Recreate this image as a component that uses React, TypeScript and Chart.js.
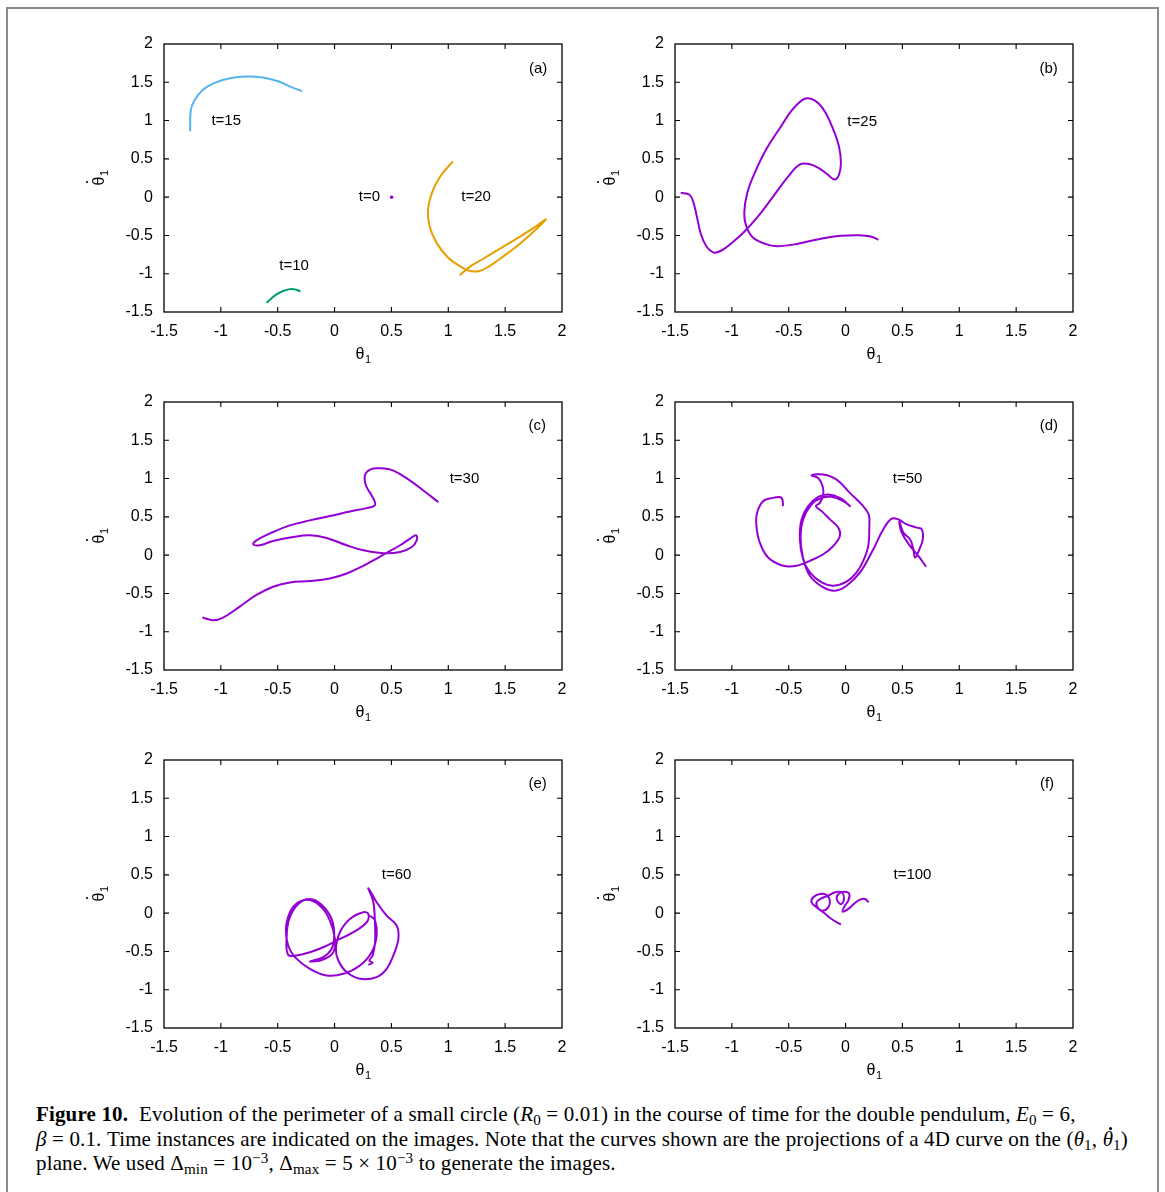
import React, { useEffect, useRef } from "react";
import { Chart, registerables } from "chart.js";

Chart.register(...registerables);

// ---------- axes ----------
const AXIS_MIN = -1.5;
const AXIS_MAX = 2;
const TICK_VALUES = [-1.5, -1, -0.5, 0, 0.5, 1, 1.5, 2];

// ---------- colours ----------
const PURPLE = "#9400D3";
const BLUE = "#56B4E9";
const GREEN = "#009E73";
const ORANGE = "#E69F00";

// ---------- panel (a) ----------
const t0X = [0.49, 0.5, 0.51, 0.5, 0.49];
const t0Y = [0.0, 0.01, 0.0, -0.01, 0.0];
const t10X = [-0.6, -0.52, -0.44, -0.37, -0.3];
const t10Y = [-1.38, -1.28, -1.22, -1.2, -1.23];
const t15X = [-1.27, -1.264, -1.23, -1.16, -1.06, -0.93, -0.775, -0.62, -0.49, -0.386, -0.285];
const t15Y = [0.86, 1.14, 1.27, 1.4, 1.49, 1.55, 1.576, 1.56, 1.51, 1.44, 1.385];
const t20X = [1.04, 0.93, 0.856, 0.822, 0.835, 0.896, 0.997, 1.099, 1.183, 1.267, 1.352, 1.47, 1.605, 1.74, 1.858, 1.774, 1.638, 1.47, 1.3, 1.2, 1.1];
const t20Y = [0.467, 0.272, 0.055, -0.161, -0.378, -0.594, -0.789, -0.897, -0.962, -0.967, -0.91, -0.789, -0.638, -0.464, -0.291, -0.378, -0.508, -0.659, -0.811, -0.897, -1.019];

// ---------- panel (b) ----------
const t25X = [-1.45, -1.375, -1.342, -1.309, -1.276, -1.227, -1.16, -1.095, -0.996, -0.897, -0.766, -0.634, -0.502, -0.404, -0.321, -0.239, -0.157, -0.097, -0.058, -0.041, -0.058, -0.107, -0.173, -0.239, -0.305, -0.371, -0.47, -0.568, -0.7, -0.799, -0.864, -0.891, -0.874, -0.815, -0.7, -0.601, -0.436, -0.239, -0.041, 0.123, 0.222, 0.288];
const t25Y = [0.057, 0.035, -0.051, -0.246, -0.462, -0.635, -0.722, -0.7, -0.592, -0.462, -0.246, 0.014, 0.274, 0.425, 0.434, 0.382, 0.295, 0.23, 0.295, 0.447, 0.663, 0.879, 1.096, 1.225, 1.286, 1.277, 1.139, 0.923, 0.62, 0.317, 0.057, -0.203, -0.376, -0.527, -0.614, -0.64, -0.614, -0.549, -0.505, -0.497, -0.514, -0.557];

// ---------- panel (c) ----------
const t30X = [-1.162, -1.068, -0.98, -0.834, -0.687, -0.54, -0.393, -0.217, -0.041, 0.106, 0.253, 0.37, 0.473, 0.576, 0.664, 0.717, 0.722, 0.679, 0.576, 0.429, 0.253, 0.106, -0.07, -0.217, -0.364, -0.54, -0.657, -0.716, -0.687, -0.54, -0.393, -0.217, -0.041, 0.135, 0.282, 0.356, 0.326, 0.276, 0.267, 0.311, 0.4, 0.517, 0.664, 0.781, 0.913];
const t30Y = [-0.815, -0.85, -0.815, -0.672, -0.52, -0.412, -0.356, -0.339, -0.304, -0.239, -0.139, -0.044, 0.042, 0.129, 0.216, 0.259, 0.194, 0.107, 0.042, 0.025, 0.064, 0.129, 0.224, 0.259, 0.237, 0.185, 0.129, 0.142, 0.194, 0.302, 0.389, 0.454, 0.51, 0.571, 0.614, 0.657, 0.779, 0.909, 1.039, 1.117, 1.134, 1.104, 0.974, 0.844, 0.692];

// ---------- panel (d) ----------
const t50X = [-0.549, -0.563, -0.637, -0.725, -0.778, -0.784, -0.754, -0.681, -0.549, -0.431, -0.314, -0.196, -0.108, -0.05, -0.064, -0.138, -0.211, -0.261, -0.226, -0.196, -0.202, -0.24, -0.299, -0.196, -0.079, 0.038, 0.141, 0.203, 0.209, 0.2, 0.162, 0.097, 0.009, -0.108, -0.211, -0.314, -0.373, -0.402, -0.387, -0.329, -0.24, -0.152, -0.05, 0.038, -0.02, -0.123, -0.211, -0.299, -0.373, -0.396, -0.378, -0.314, -0.196, -0.094, 0.009, 0.127, 0.244, 0.332, 0.405, 0.464, 0.538, 0.626, 0.67, 0.679, 0.649, 0.611, 0.596, 0.567, 0.508, 0.473, 0.494, 0.567, 0.64, 0.708];
const t50Y = [0.64, 0.748, 0.748, 0.705, 0.553, 0.38, 0.164, -0.031, -0.139, -0.139, -0.074, 0.012, 0.12, 0.25, 0.359, 0.467, 0.575, 0.64, 0.683, 0.792, 0.9, 1.008, 1.043, 1.052, 0.987, 0.813, 0.662, 0.532, 0.38, 0.12, -0.053, -0.226, -0.347, -0.399, -0.356, -0.226, -0.053, 0.207, 0.467, 0.64, 0.761, 0.792, 0.748, 0.64, 0.705, 0.761, 0.748, 0.662, 0.467, 0.25, -0.01, -0.269, -0.421, -0.464, -0.399, -0.226, 0.077, 0.337, 0.476, 0.467, 0.402, 0.359, 0.337, 0.207, 0.077, -0.031, 0.077, 0.207, 0.294, 0.445, 0.294, 0.12, -0.01, -0.152];

// ---------- panel (e) ----------
const t60X = [0.297, 0.335, 0.306, 0.335, 0.356, 0.356, 0.341, 0.297, 0.37, 0.458, 0.546, 0.561, 0.517, 0.458, 0.37, 0.223, 0.106, 0.033, 0.012, 0.047, 0.135, 0.253, 0.297, 0.282, 0.165, 0.018, -0.1, -0.217, -0.334, -0.408, -0.422, -0.399, -0.32, -0.217, -0.114, -0.026, -0.003, -0.026, -0.1, -0.217, -0.1, -0.011, 0.003, -0.041, -0.114, -0.217, -0.32, -0.393, -0.428, -0.408, -0.349, -0.217, -0.07, 0.077, 0.223, 0.326, 0.37, 0.356, 0.311];
const t60Y = [-0.675, -0.649, -0.618, -0.553, -0.38, -0.162, 0.142, 0.324, 0.142, -0.032, -0.162, -0.336, -0.553, -0.727, -0.835, -0.857, -0.77, -0.618, -0.466, -0.249, -0.076, 0.011, -0.01, -0.119, -0.249, -0.358, -0.445, -0.51, -0.553, -0.545, -0.336, -0.076, 0.12, 0.185, 0.111, -0.076, -0.293, -0.466, -0.575, -0.631, -0.605, -0.51, -0.336, -0.097, 0.076, 0.172, 0.142, 0.011, -0.206, -0.423, -0.575, -0.727, -0.814, -0.792, -0.683, -0.51, -0.293, -0.097, -0.032];

// ---------- panel (f) ----------
const t100X = [-0.041, -0.123, -0.196, -0.255, -0.299, -0.284, -0.226, -0.167, -0.138, -0.152, -0.196, -0.24, -0.255, -0.211, -0.152, -0.108, -0.064, -0.026, -0.014, -0.035, -0.064, -0.079, -0.05, -0.006, 0.033, 0.024, -0.006, -0.026, 0.024, 0.082, 0.127, 0.171, 0.203];
const t100Y = [-0.149, -0.076, 0.011, 0.076, 0.142, 0.207, 0.25, 0.237, 0.163, 0.076, 0.033, 0.063, 0.142, 0.194, 0.228, 0.263, 0.28, 0.263, 0.185, 0.12, 0.142, 0.207, 0.263, 0.28, 0.25, 0.163, 0.098, 0.02, 0.055, 0.133, 0.176, 0.185, 0.142];

// ---------- annotations ----------
const panelTags = ["(a)", "(b)", "(c)", "(d)", "(e)", "(f)"];
const tagX = [1.79, 1.786, 1.782, 1.788, 1.785, 1.771];
const tagY = [1.68, 1.68, 1.688, 1.688, 1.69, 1.69];

type Curve = { xs: number[]; ys: number[]; color: string };
type Note = { x: number; y: number; text: string };
type Panel = { curves: Curve[]; notes: Note[]; plotLeft: number; plotTop: number };

const PLOT_W = 398;
const PLOT_H = 268;
const LEFT_BOX = 84;
const TOP_PAD = 24;
const RIGHT_PAD = 16;
const BOTTOM_BOX = 62;

const PANELS: Panel[] = [
  {
    plotLeft: 164, plotTop: 44,
    curves: [
      { xs: t15X, ys: t15Y, color: BLUE },
      { xs: t10X, ys: t10Y, color: GREEN },
      { xs: t20X, ys: t20Y, color: ORANGE },
      { xs: t0X, ys: t0Y, color: PURPLE },
    ],
    notes: [
      { x: -0.953, y: 0.995, text: "t=15" },
      { x: -0.356, y: -0.902, text: "t=10" },
      { x: 0.306, y: 0, text: "t=0" },
      { x: 1.244, y: 0, text: "t=20" },
    ],
  },
  { plotLeft: 675, plotTop: 44, curves: [{ xs: t25X, ys: t25Y, color: PURPLE }], notes: [{ x: 0.146, y: 0.987, text: "t=25" }] },
  { plotLeft: 164, plotTop: 402, curves: [{ xs: t30X, ys: t30Y, color: PURPLE }], notes: [{ x: 1.142, y: 1.0, text: "t=30" }] },
  { plotLeft: 675, plotTop: 402, curves: [{ xs: t50X, ys: t50Y, color: PURPLE }], notes: [{ x: 0.546, y: 1.0, text: "t=50" }] },
  { plotLeft: 164, plotTop: 760, curves: [{ xs: t60X, ys: t60Y, color: PURPLE }], notes: [{ x: 0.546, y: 0.498, text: "t=60" }] },
  { plotLeft: 675, plotTop: 760, curves: [{ xs: t100X, ys: t100Y, color: PURPLE }], notes: [{ x: 0.588, y: 0.5, text: "t=100" }] },
];

const SANS = "'Liberation Sans', Arial, Helvetica, sans-serif";

function PanelChart({ panel, index }: { panel: Panel; index: number }) {
  const ref = useRef<HTMLCanvasElement | null>(null);
  useEffect(() => {
    if (!ref.current) return;
    const deco = {
      id: "deco" + index,
      afterDraw(chart: any) {
        const { ctx, chartArea: a, scales } = chart;
        const sx = scales.x;
        const sy = scales.y;
        ctx.save();
        ctx.strokeStyle = "#000";
        ctx.lineWidth = 1.1;
        const TL = 5;
        ctx.beginPath();
        for (const v of TICK_VALUES) {
          if (v === AXIS_MIN || v === AXIS_MAX) continue;
          const px = sx.getPixelForValue(v);
          ctx.moveTo(px, a.bottom);
          ctx.lineTo(px, a.bottom - TL);
          ctx.moveTo(px, a.top);
          ctx.lineTo(px, a.top + TL);
          const py = sy.getPixelForValue(v);
          ctx.moveTo(a.left, py);
          ctx.lineTo(a.left + TL, py);
          ctx.moveTo(a.right, py);
          ctx.lineTo(a.right - TL, py);
        }
        ctx.stroke();
        ctx.lineWidth = 1.3;
        ctx.strokeRect(a.left, a.top, a.right - a.left, a.bottom - a.top);

        ctx.fillStyle = "#000";
        ctx.textBaseline = "middle";
        ctx.textAlign = "center";
        ctx.font = "15px " + SANS;
        for (const n of panel.notes) {
          ctx.fillText(n.text, sx.getPixelForValue(n.x), sy.getPixelForValue(n.y));
        }
        ctx.fillText(panelTags[index], sx.getPixelForValue(tagX[index]), sy.getPixelForValue(tagY[index]));

        // x axis title: theta_1
        const cx = (a.left + a.right) / 2;
        ctx.font = "16px " + SANS;
        ctx.fillText("θ", cx - 3, a.bottom + 43);
        ctx.font = "11px " + SANS;
        ctx.fillText("1", cx + 5, a.bottom + 48);

        // y axis title: theta-dot_1 (rotated)
        const cy = (a.top + a.bottom) / 2;
        ctx.translate(a.left - 64, cy);
        ctx.rotate(-Math.PI / 2);
        ctx.font = "16px " + SANS;
        ctx.fillText("θ", -3, 0);
        ctx.font = "11px " + SANS;
        ctx.fillText("1", 5, 5);
        ctx.beginPath();
        ctx.arc(-4, -13, 1.1, 0, Math.PI * 2);
        ctx.fill();
        ctx.restore();
      },
    };
    const tickFont = { family: SANS, size: 16 };
    const chart = new Chart(ref.current, {
      type: "scatter",
      data: {
        datasets: panel.curves.map((c) => ({
          data: c.xs.map((x, i) => ({ x, y: c.ys[i] })),
          showLine: true,
          borderColor: c.color,
          backgroundColor: c.color,
          borderWidth: 2,
          pointRadius: 0,
          tension: 0.4,
          fill: false,
        })),
      },
      options: {
        responsive: false,
        animation: false,
        events: [],
        layout: { padding: { top: TOP_PAD, right: RIGHT_PAD, left: 0, bottom: 0 } },
        plugins: { legend: { display: false }, tooltip: { enabled: false } },
        scales: {
          x: {
            type: "linear",
            min: AXIS_MIN,
            max: AXIS_MAX,
            afterBuildTicks: (s: any) => {
              s.ticks = TICK_VALUES.map((v) => ({ value: v }));
            },
            afterFit: (s: any) => {
              s.height = BOTTOM_BOX;
            },
            ticks: { font: tickFont, color: "#000", padding: 10, maxRotation: 0, autoSkip: false, callback: (v: any) => String(v) },
            grid: { display: false, drawTicks: false, tickLength: 0 },
            border: { display: false },
          },
          y: {
            type: "linear",
            min: AXIS_MIN,
            max: AXIS_MAX,
            afterBuildTicks: (s: any) => {
              s.ticks = TICK_VALUES.map((v) => ({ value: v }));
            },
            afterFit: (s: any) => {
              s.width = LEFT_BOX;
            },
            ticks: { font: tickFont, color: "#000", padding: 11, autoSkip: false, callback: (v: any) => String(v) },
            grid: { display: false, drawTicks: false, tickLength: 0 },
            border: { display: false },
          },
        },
      } as any,
      plugins: [deco],
    });
    return () => chart.destroy();
  }, [panel, index]);
  const w = LEFT_BOX + PLOT_W + RIGHT_PAD;
  const h = TOP_PAD + PLOT_H + BOTTOM_BOX;
  return (
    <canvas
      ref={ref}
      width={w}
      height={h}
      style={{ position: "absolute", left: panel.plotLeft - LEFT_BOX, top: panel.plotTop - TOP_PAD, width: w, height: h }}
    />
  );
}

const SERIF = "'Liberation Serif', 'Times New Roman', serif";

function ThetaDot() {
  return (
    <span style={{ position: "relative", display: "inline-block" }}>
      <i>θ</i>
      <span
        style={{
          position: "absolute",
          left: "0.3em",
          top: "-1px",
          width: 3,
          height: 3,
          borderRadius: "50%",
          background: "#000",
        }}
      />
    </span>
  );
}

export default function App() {
  const lineStyle: React.CSSProperties = {
    position: "absolute",
    left: 36,
    whiteSpace: "nowrap",
    fontFamily: SERIF,
    fontSize: 21,
    letterSpacing: "0.15px",
    lineHeight: "22px",
    color: "#000",
  };
  const sub: React.CSSProperties = { fontSize: "0.72em", verticalAlign: "-0.25em", lineHeight: 0 };
  const sup: React.CSSProperties = { fontSize: "0.72em", verticalAlign: "0.45em", lineHeight: 0 };
  return (
    <div style={{ position: "absolute", left: 0, top: 0, width: 1165, height: 1192, overflow: "hidden", background: "#fff" }}>
      <div
        style={{
          position: "absolute",
          left: 6,
          top: 7,
          width: 1149,
          height: 1200,
          border: "2px solid #8a8a8a",
          borderBottom: "none",
        }}
      />
      {PANELS.map((p, i) => (
        <PanelChart key={i} panel={p} index={i} />
      ))}
      <div style={{ ...lineStyle, top: 1103 }}>
        <b>Figure 10.</b>&nbsp;&nbsp;Evolution of the perimeter of a small circle (<i>R</i>
        <span style={sub}>0</span> = 0.01) in the course of time for the double pendulum, <i>E</i>
        <span style={sub}>0</span> = 6,
      </div>
      <div style={{ ...lineStyle, top: 1128 }}>
        <i>β</i> = 0.1. Time instances are indicated on the images. Note that the curves shown are the projections of a 4D curve on the (<i>θ</i>
        <span style={sub}>1</span>, <ThetaDot />
        <span style={sub}>1</span>)
      </div>
      <div style={{ ...lineStyle, top: 1152 }}>
        plane. We used Δ<span style={sub}>min</span> = 10<span style={sup}>−3</span>, Δ<span style={sub}>max</span> = 5 × 10
        <span style={sup}>−3</span> to generate the images.
      </div>
    </div>
  );
}
